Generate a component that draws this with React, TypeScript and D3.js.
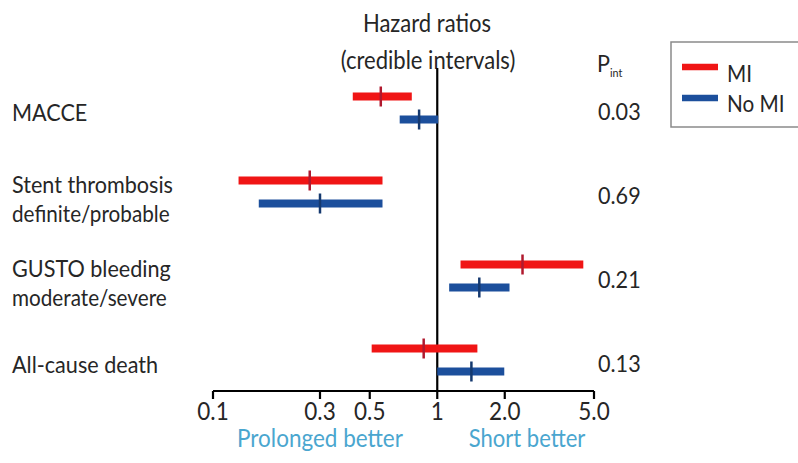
import React from "react";
import * as d3 from "d3";

const outcomes = ["MACCE", "Stent thrombosis", "GUSTO bleeding", "All-cause death"];
const subtitles = ["", "definite/probable", "moderate/severe", ""];
const pInt = ["0.03", "0.69", "0.21", "0.13"];
const groups = ["MI", "No MI"];
const miHR = [0.56, 0.27, 2.4, 0.87];
const miLo = [0.42, 0.13, 1.27, 0.51];
const miHi = [0.77, 0.57, 4.48, 1.51];
const noMiHR = [0.83, 0.3, 1.54, 1.42];
const noMiLo = [0.68, 0.16, 1.13, 1.0];
const noMiHi = [1.01, 0.57, 2.1, 1.99];
const tickValues = [0.1, 0.3, 0.5, 1, 2, 5];
const tickLabels = ["0.1", "0.3", "0.5", "1", "2.0", "5.0"];

const W = 798;
const H = 463;
const FONT = "Lato, 'Open Sans', sans-serif";
const SX = 0.9;
const TEXT = "#262626";
const RED = "#f01515";
const BLUE = "#1c4f9c";
const RED_MARK = "#b0192e";
const BLUE_MARK = "#15396f";
const LIGHT_BLUE = "#4aa6cf";

type TProps = {
  x: number;
  y: number;
  size: number;
  anchor?: "start" | "middle" | "end";
  fill?: string;
  children: React.ReactNode;
};

function T({ x, y, size, anchor = "start", fill = TEXT, children }: TProps) {
  return (
    <text
      transform={`translate(${x},${y}) scale(${SX},1)`}
      fontSize={size}
      fontFamily={FONT}
      textAnchor={anchor}
      fill={fill}
    >
      {children}
    </text>
  );
}

export default function App() {
  const x = d3.scaleLog().domain([0.1, 5]).range([213, 594]);
  const row = d3.scalePoint<string>().domain(outcomes).range([108, 360]);
  const off = 11.5;
  const axisY = 391;

  const series = [
    { name: groups[0], hr: miHR, lo: miLo, hi: miHi, color: RED, mark: RED_MARK, dy: -off },
    { name: groups[1], hr: noMiHR, lo: noMiLo, hi: noMiHi, color: BLUE, mark: BLUE_MARK, dy: off },
  ];

  return (
    <svg
      width={W}
      height={H}
      style={{ position: "absolute", left: 0, top: 0, background: "#fff" }}
    >
      <rect x={0} y={0} width={W} height={H} fill="#fff" />
      {/* header */}
      <T x={427} y={32} size={24.5} anchor="middle">Hazard ratios</T>
      <T x={428} y={69} size={24.5} anchor="middle">(credible intervals)</T>
      <T x={597} y={72} size={24}>P</T>
      <T x={610} y={77} size={12}>int</T>

      {/* reference line at 1 */}
      <line x1={x(1)} x2={x(1)} y1={68} y2={axisY} stroke="#000" strokeWidth={2.2} />

      {/* axis */}
      <line x1={x(0.1)} x2={x(5)} y1={axisY} y2={axisY} stroke="#000" strokeWidth={2.2} />
      {tickValues.map((t, i) => (
        <g key={t}>
          <line x1={x(t)} x2={x(t)} y1={axisY} y2={axisY + 8} stroke="#000" strokeWidth={2.2} />
          <T x={x(t)} y={420} size={25} anchor="middle">{tickLabels[i]}</T>
        </g>
      ))}
      <T x={320} y={447} size={25} anchor="middle" fill={LIGHT_BLUE}>Prolonged better</T>
      <T x={527} y={447} size={24.5} anchor="middle" fill={LIGHT_BLUE}>Short better</T>

      {/* rows */}
      {outcomes.map((o, i) => {
        const c = row(o) as number;
        const hasSub = subtitles[i] !== "";
        return (
          <g key={o}>
            <T x={12} y={hasSub ? c + 1 : c + 13} size={24}>{o}</T>
            {hasSub && <T x={12} y={c + 30} size={23}>{subtitles[i]}</T>}
            <T x={598} y={c + 12} size={24}>{pInt[i]}</T>
            {series.map((s) => {
              const yy = c + s.dy;
              return (
                <g key={s.name}>
                  <line x1={x(s.lo[i])} x2={x(s.hi[i])} y1={yy} y2={yy} stroke={s.color} strokeWidth={8} />
                  <line x1={x(s.hr[i])} x2={x(s.hr[i])} y1={yy - 10} y2={yy + 10} stroke={s.mark} strokeWidth={2.5} />
                </g>
              );
            })}
          </g>
        );
      })}

      {/* legend */}
      <rect x={671} y={42} width={140} height={85} fill="#fff" stroke="#8a8a8a" strokeWidth={1.5} />
      {series.map((s, i) => (
        <g key={s.name}>
          <line x1={682} x2={718} y1={67 + i * 31} y2={67 + i * 31} stroke={s.color} strokeWidth={6.5} />
          <T x={727} y={82 + i * 30} size={23}>{s.name}</T>
        </g>
      ))}
    </svg>
  );
}
